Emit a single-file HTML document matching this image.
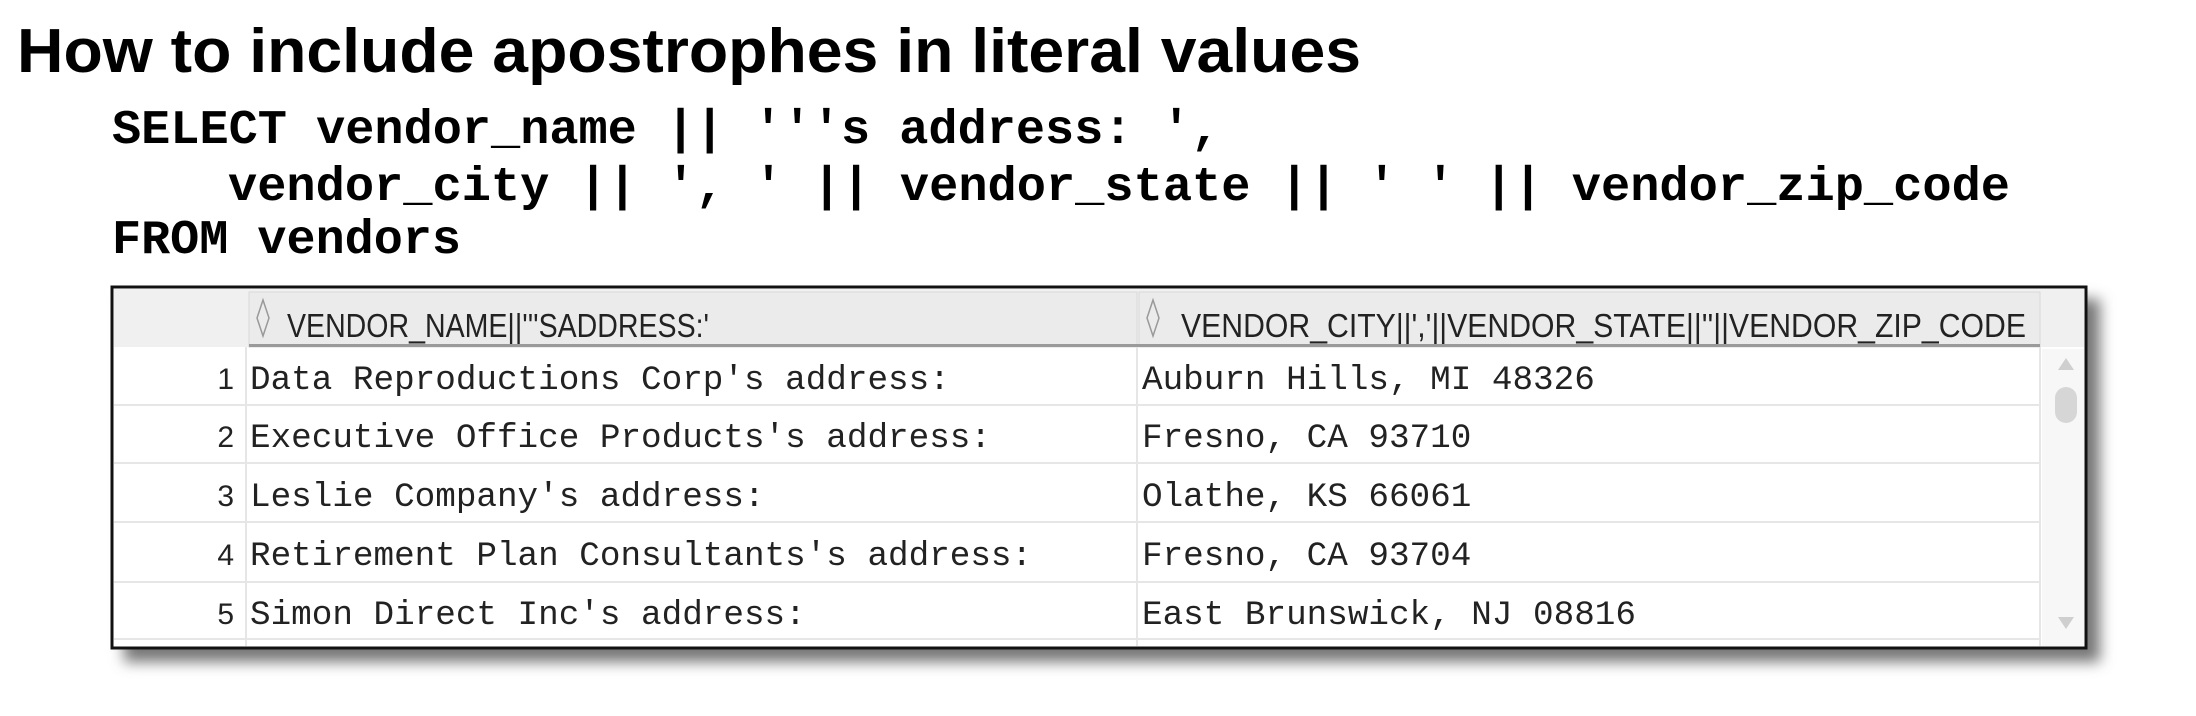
<!DOCTYPE html>
<html><head><meta charset="utf-8"><style>
html,body{margin:0;padding:0;background:#fff;}
svg{display:block;}
</style></head><body>
<svg width="2196" height="716" viewBox="0 0 2196 716" xmlns="http://www.w3.org/2000/svg">
<defs>
<filter id="sh" x="-5%" y="-10%" width="115%" height="130%">
<feGaussianBlur stdDeviation="7"/>
</filter>
</defs>
<text x="17" y="72" font-family="Liberation Sans, sans-serif" font-weight="bold" font-size="62" textLength="1344" lengthAdjust="spacingAndGlyphs">How to include apostrophes in literal values</text>
<g font-family="Liberation Mono, monospace" font-weight="bold" font-size="48" fill="#000">
<text x="112" y="143" xml:space="preserve" textLength="1108" lengthAdjust="spacingAndGlyphs">SELECT vendor_name || '''s address: ',</text>
<text x="228" y="200" xml:space="preserve" textLength="1782" lengthAdjust="spacingAndGlyphs">vendor_city || ', ' || vendor_state || ' ' || vendor_zip_code</text>
<text x="112" y="253" xml:space="preserve" textLength="349" lengthAdjust="spacingAndGlyphs">FROM vendors</text>
</g>
<!-- shadow -->
<rect x="124" y="299" width="1976" height="363" fill="#777" filter="url(#sh)"/>
<rect x="112" y="287" width="1974" height="361" fill="#fff" stroke="#111" stroke-width="3"/>
<!-- header -->
<rect x="114" y="289" width="1970" height="58" fill="#f0f0f0"/>
<rect x="249" y="292" width="888" height="55" fill="#ebebeb" stroke="#d8d8d8"/>
<rect x="1139" y="292" width="901" height="55" fill="#ebebeb" stroke="#d8d8d8"/>
<rect x="249" y="344" width="1791" height="3" fill="#9a9a9a"/>
<!-- row lines -->
<g stroke="#e6e6e6" stroke-width="2">
<line x1="114" y1="405" x2="2040" y2="405"/>
<line x1="114" y1="463" x2="2040" y2="463"/>
<line x1="114" y1="522" x2="2040" y2="522"/>
<line x1="114" y1="582" x2="2040" y2="582"/>
<line x1="114" y1="639" x2="2040" y2="639"/>
<line x1="246" y1="347" x2="246" y2="646"/>
<line x1="1137" y1="347" x2="1137" y2="646"/>
<line x1="2040" y1="347" x2="2040" y2="646"/>
</g>
<!-- scrollbar -->
<rect x="2042" y="349" width="42" height="297" fill="#f7f7f7"/>
<polygon points="2058,370 2074,370 2066,358" fill="#cfcfcf"/>
<rect x="2055" y="387" width="22" height="36" rx="11" fill="#d6d6d6"/>
<polygon points="2058,617 2074,617 2066,629" fill="#cfcfcf"/>
<!-- sort icons -->
<g fill="none" stroke="#999" stroke-width="1.5">
<path d="M263,300 L257,318 L263,336 L269,318 Z"/>
<path d="M1153,300 L1147,318 L1153,336 L1159,318 Z"/>
</g>
<g font-family="Liberation Sans, sans-serif" font-size="33" fill="#222">
<text x="287" y="337" textLength="422" lengthAdjust="spacingAndGlyphs">VENDOR_NAME||'''SADDRESS:'</text>
<text x="1181" y="337" textLength="845" lengthAdjust="spacingAndGlyphs">VENDOR_CITY||','||VENDOR_STATE||''||VENDOR_ZIP_CODE</text>
</g>
<g font-family="Liberation Sans, sans-serif" font-size="30" fill="#222" text-anchor="end">
<text x="234" y="389">1</text>
<text x="234" y="447">2</text>
<text x="234" y="506">3</text>
<text x="234" y="565">4</text>
<text x="234" y="624">5</text>
</g>
<g font-family="Liberation Mono, monospace" font-size="34.3" fill="#222" xml:space="preserve">
<text x="250" y="389">Data Reproductions Corp's address:</text>
<text x="250" y="447">Executive Office Products's address:</text>
<text x="250" y="506">Leslie Company's address:</text>
<text x="250" y="565">Retirement Plan Consultants's address:</text>
<text x="250" y="624">Simon Direct Inc's address:</text>
<text x="1142" y="389">Auburn Hills, MI 48326</text>
<text x="1142" y="447">Fresno, CA 93710</text>
<text x="1142" y="506">Olathe, KS 66061</text>
<text x="1142" y="565">Fresno, CA 93704</text>
<text x="1142" y="624">East Brunswick, NJ 08816</text>
</g>
</svg>
</body></html>
